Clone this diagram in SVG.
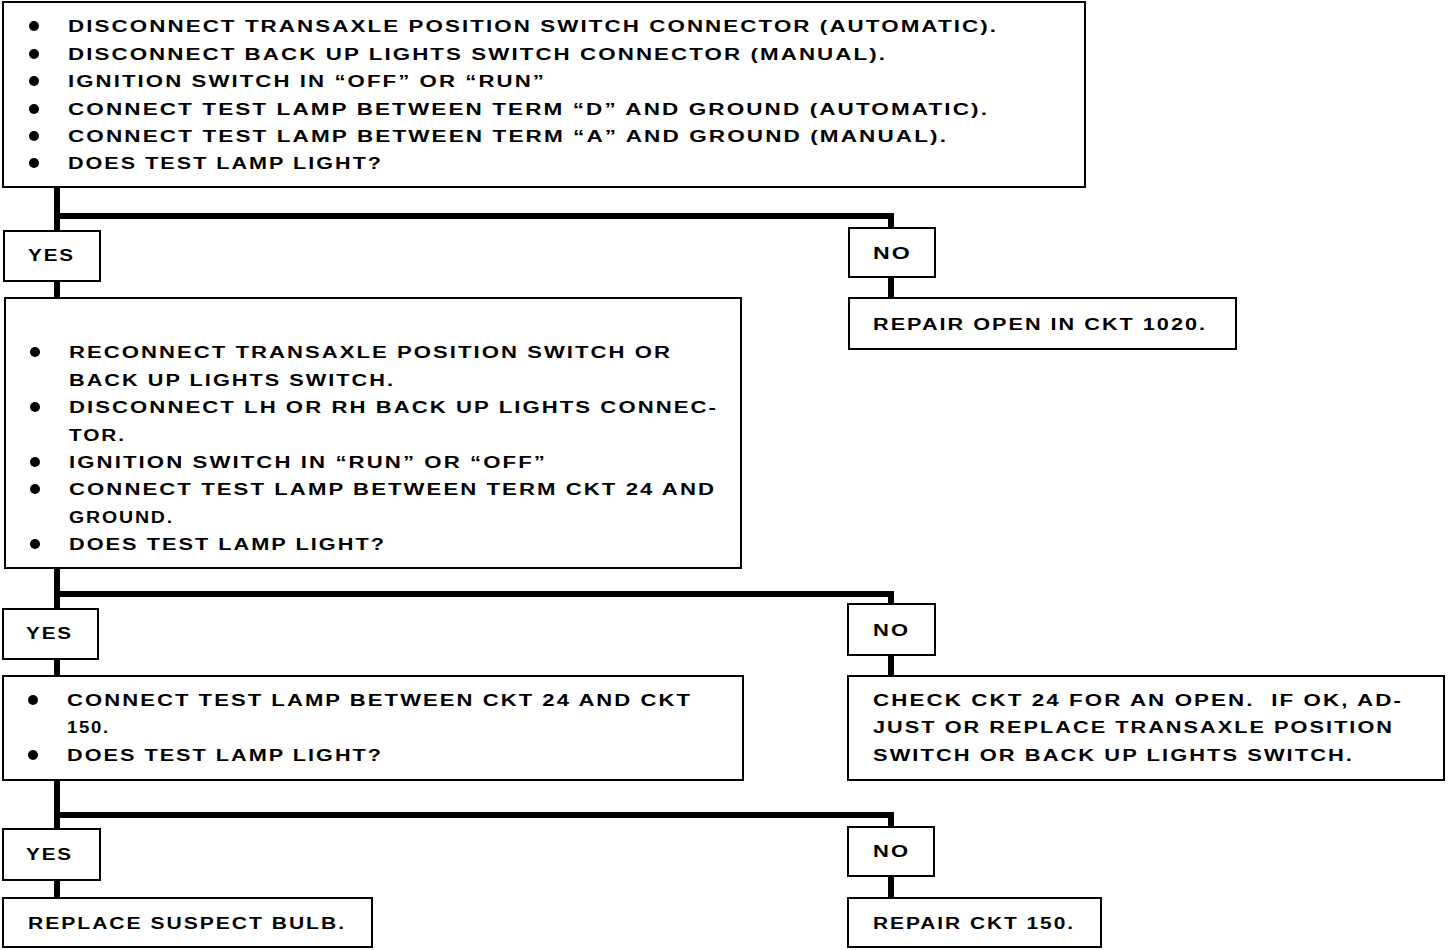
<svg xmlns="http://www.w3.org/2000/svg" width="1456" height="950" viewBox="0 0 1456 950">
<style>
.box{fill:#fff;stroke:#000;stroke-width:2}
.t{font-family:"Liberation Sans",Arial,sans-serif;font-weight:bold;font-size:16px;letter-spacing:1.5px;fill:#000}
.c{stroke:#000;stroke-width:6;fill:none}
.b{fill:#000}
</style>
<rect width="1456" height="950" fill="#fff"/>
<g id="connectors">
<path class="c" d="M57,187 V231 M57,216 H891 V228 M57,281 V298 M891,277 V298"/>
<path class="c" d="M57,568 V609 M57,594 H891 V604 M57,659 V676 M891,655 V676"/>
<path class="c" d="M57,780 V829 M57,815 H891 V827 M57,880 V898 M891,876 V898"/>
</g>
<g id="step1">
<rect class="box" x="3" y="2" width="1082" height="185"/>
<circle class="b" cx="34" cy="26" r="5"/><circle class="b" cx="34" cy="54" r="5"/><circle class="b" cx="34" cy="81" r="5"/><circle class="b" cx="34" cy="109" r="5"/><circle class="b" cx="34" cy="136" r="5"/><circle class="b" cx="34" cy="163" r="5"/>
<text class="t" x="68" y="31.5" textLength="930" lengthAdjust="spacingAndGlyphs">DISCONNECT TRANSAXLE POSITION SWITCH CONNECTOR (AUTOMATIC).</text>
<text class="t" x="68" y="59.5" textLength="819" lengthAdjust="spacingAndGlyphs">DISCONNECT BACK UP LIGHTS SWITCH CONNECTOR (MANUAL).</text>
<text class="t" x="68" y="86.5" textLength="478" lengthAdjust="spacingAndGlyphs">IGNITION SWITCH IN “OFF” OR “RUN”</text>
<text class="t" x="68" y="114.5" textLength="921" lengthAdjust="spacingAndGlyphs">CONNECT TEST LAMP BETWEEN TERM “D” AND GROUND (AUTOMATIC).</text>
<text class="t" x="68" y="141.5" textLength="880" lengthAdjust="spacingAndGlyphs">CONNECT TEST LAMP BETWEEN TERM “A” AND GROUND (MANUAL).</text>
<text class="t" x="68" y="168.5" textLength="315" lengthAdjust="spacingAndGlyphs">DOES TEST LAMP LIGHT?</text>
</g>
<g id="yes1">
<rect class="box" x="4" y="231" width="96" height="50"/>
<text class="t" x="28" y="260.5" textLength="47" lengthAdjust="spacingAndGlyphs">YES</text>
</g>
<g id="no1">
<rect class="box" x="849" y="228" width="86" height="49"/>
<text class="t" x="873" y="258.5" textLength="39" lengthAdjust="spacingAndGlyphs">NO</text>
</g>
<g id="repair1020">
<rect class="box" x="849" y="298" width="387" height="51"/>
<text class="t" x="873" y="329.5" textLength="334" lengthAdjust="spacingAndGlyphs">REPAIR OPEN IN CKT 1020.</text>
</g>
<g id="step2">
<rect class="box" x="5" y="298" width="736" height="270"/>
<circle class="b" cx="35" cy="352" r="5"/><circle class="b" cx="35" cy="407" r="5"/><circle class="b" cx="35" cy="462" r="5"/><circle class="b" cx="35" cy="489" r="5"/><circle class="b" cx="35" cy="544" r="5"/>
<text class="t" x="69" y="357.5" textLength="603" lengthAdjust="spacingAndGlyphs">RECONNECT TRANSAXLE POSITION SWITCH OR</text>
<text class="t" x="69" y="385.5" textLength="326" lengthAdjust="spacingAndGlyphs">BACK UP LIGHTS SWITCH.</text>
<text class="t" x="69" y="412.5" textLength="649" lengthAdjust="spacingAndGlyphs">DISCONNECT LH OR RH BACK UP LIGHTS CONNEC-</text>
<text class="t" x="69" y="440.5" textLength="57" lengthAdjust="spacingAndGlyphs">TOR.</text>
<text class="t" x="69" y="467.5" textLength="478" lengthAdjust="spacingAndGlyphs">IGNITION SWITCH IN “RUN” OR “OFF”</text>
<text class="t" x="69" y="494.5" textLength="647" lengthAdjust="spacingAndGlyphs">CONNECT TEST LAMP BETWEEN TERM CKT 24 AND</text>
<text class="t" x="69" y="522.5" textLength="105" lengthAdjust="spacingAndGlyphs">GROUND.</text>
<text class="t" x="69" y="549.5" textLength="317" lengthAdjust="spacingAndGlyphs">DOES TEST LAMP LIGHT?</text>
</g>
<g id="yes2">
<rect class="box" x="3" y="609" width="95" height="50"/>
<text class="t" x="26" y="638.5" textLength="47" lengthAdjust="spacingAndGlyphs">YES</text>
</g>
<g id="no2">
<rect class="box" x="848" y="604" width="87" height="51"/>
<text class="t" x="873" y="635.5" textLength="37" lengthAdjust="spacingAndGlyphs">NO</text>
</g>
<g id="step3">
<rect class="box" x="3" y="676" width="740" height="104"/>
<circle class="b" cx="33" cy="700" r="5"/><circle class="b" cx="33" cy="755" r="5"/>
<text class="t" x="67" y="705.5" textLength="625" lengthAdjust="spacingAndGlyphs">CONNECT TEST LAMP BETWEEN CKT 24 AND CKT</text>
<text class="t" x="67" y="732.5" textLength="43" lengthAdjust="spacingAndGlyphs">150.</text>
<text class="t" x="67" y="760.5" textLength="316" lengthAdjust="spacingAndGlyphs">DOES TEST LAMP LIGHT?</text>
</g>
<g id="check24">
<rect class="box" x="848" y="676" width="596" height="104"/>
<text class="t" x="873" y="705.5" textLength="530" lengthAdjust="spacingAndGlyphs" xml:space="preserve">CHECK CKT 24 FOR AN OPEN.  IF OK, AD-</text>
<text class="t" x="873" y="732.5" textLength="521" lengthAdjust="spacingAndGlyphs">JUST OR REPLACE TRANSAXLE POSITION</text>
<text class="t" x="873" y="760.5" textLength="481" lengthAdjust="spacingAndGlyphs">SWITCH OR BACK UP LIGHTS SWITCH.</text>
</g>
<g id="yes3">
<rect class="box" x="3" y="829" width="97" height="51"/>
<text class="t" x="26" y="859.5" textLength="47" lengthAdjust="spacingAndGlyphs">YES</text>
</g>
<g id="no3">
<rect class="box" x="848" y="827" width="86" height="49"/>
<text class="t" x="873" y="856.5" textLength="37" lengthAdjust="spacingAndGlyphs">NO</text>
</g>
<g id="replacebulb">
<rect class="box" x="3" y="898" width="369" height="49"/>
<text class="t" x="28" y="928.5" textLength="318" lengthAdjust="spacingAndGlyphs">REPLACE SUSPECT BULB.</text>
</g>
<g id="repair150">
<rect class="box" x="848" y="898" width="253" height="49"/>
<text class="t" x="873" y="928.5" textLength="202" lengthAdjust="spacingAndGlyphs">REPAIR CKT 150.</text>
</g>
</svg>
